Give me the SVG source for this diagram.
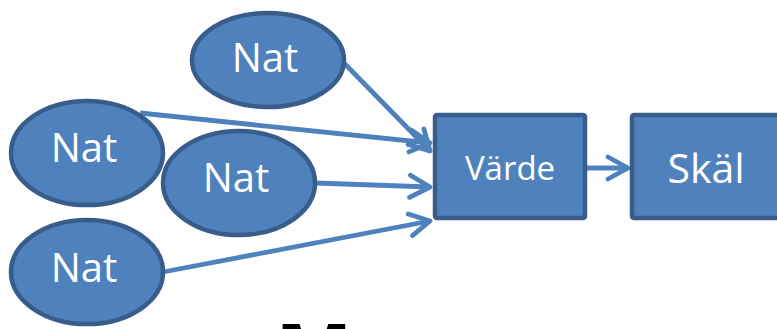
<svg xmlns="http://www.w3.org/2000/svg" width="777" height="329" viewBox="0 0 777 329">
<style>
.node{fill:#4F81BD;stroke:#385D8A;stroke-width:4.5}
.lbl{fill:#FFFFFF;font-family:"Open Sans","DejaVu Sans",sans-serif;text-anchor:middle}
.conn{stroke:#4F81BD;stroke-width:4.8;fill:none}
</style>
<defs>
<marker id="arr" markerUnits="userSpaceOnUse" viewBox="-26 -16 30 32" refX="0" refY="0" markerWidth="30" markerHeight="32" orient="auto" overflow="visible">
<path d="M-20,-11 L0,0 L-20,11" fill="none" stroke="#4F81BD" stroke-width="4.8" stroke-linecap="round" stroke-linejoin="round"/>
</marker>
</defs>
<rect width="777" height="329" fill="#FFFFFF"/>
<g id="connectors">
<line class="conn" x1="343" y1="62" x2="430" y2="151" marker-end="url(#arr)"/>
<line class="conn" x1="140" y1="113" x2="430" y2="143" marker-end="url(#arr)"/>
<line class="conn" x1="315" y1="183" x2="430" y2="187" marker-end="url(#arr)"/>
<line class="conn" x1="163" y1="272" x2="430" y2="221" marker-end="url(#arr)"/>
<line class="conn" x1="587" y1="168" x2="628" y2="168" marker-end="url(#arr)"/>
</g>
<g id="nat-top">
<ellipse class="node" cx="268" cy="60" rx="76" ry="47"/>
<text class="lbl" x="265" y="72" font-size="40">Nat</text>
</g>
<g id="nat-left">
<ellipse class="node" cx="87" cy="153" rx="76" ry="52"/>
<text class="lbl" x="84" y="162" font-size="40">Nat</text>
</g>
<g id="nat-middle">
<ellipse class="node" cx="239" cy="183" rx="76" ry="52"/>
<text class="lbl" x="236" y="192" font-size="40">Nat</text>
</g>
<g id="nat-bottom">
<ellipse class="node" cx="87" cy="272" rx="76" ry="52"/>
<text class="lbl" x="84" y="282" font-size="40">Nat</text>
</g>
<g id="varde">
<rect class="node" x="435" y="115" width="150" height="103" rx="2"/>
<text class="lbl" x="510" y="180" font-size="33">Värde</text>
</g>
<g id="skal">
<rect class="node" x="632" y="115" width="170" height="103" rx="2"/>
<text class="lbl" x="706" y="183" font-size="41">Skäl</text>
</g>
<text x="314" y="383" font-family="'Open Sans','DejaVu Sans',sans-serif" font-weight="bold" font-size="82" text-anchor="middle" fill="#000000">M</text>
</svg>
